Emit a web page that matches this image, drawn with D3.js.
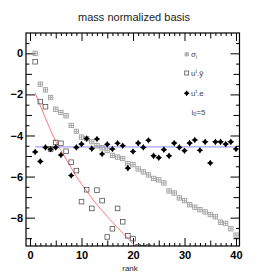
<!DOCTYPE html>
<html>
<head>
<meta charset="utf-8">
<script src="https://cdn.jsdelivr.net/npm/d3@7"></script>
<style>
body { margin: 0; background: #fff; }
svg { font-family: "Liberation Sans", Arial, sans-serif; }
</style>
</head>
<body>
<script>
var svgWidth = 266, svgHeight = 275;
var frame = { left: 26, right: 239.5, top: 33, bottom: 246 };

var ranks = [1, 2, 3, 4, 5, 6, 7, 8, 9, 10, 11, 12, 13, 14, 15, 16, 17, 18, 19, 20,
             21, 22, 23, 24, 25, 26, 27, 28, 29, 30, 31, 32, 33, 34, 35, 36, 37, 38, 39, 40];
// sigma_i (log scale values as read)
var sigma = [0.0, -1.50, -1.78, -2.15, -2.72, -2.88, -3.04, -3.51, -3.80, -4.08,
             -4.15, -4.30, -4.50, -4.60, -4.72, -4.97, -5.05, -5.12, -5.37, -5.42,
             -5.63, -5.77, -5.92, -6.09, -6.16, -6.31, -6.70, -6.80, -7.04, -7.17,
             -7.37, -7.49, -7.61, -7.72, -7.85, -7.96, -8.22, -8.28, -8.54, -8.85];
// u^t.ybar, only the visible ranks
var uty = [-0.41, -2.35, -2.60, -4.66, -4.34, -4.38, -4.77, -5.30, -5.71, -7.22,
           -6.64, -7.55, -6.66, -7.17, -8.94, -8.54, -7.55, -8.20, -8.88, -9.02,
           -9.42, -9.46, -9.43];
// u^t.e (rank 7 not visible)
var ute = [-4.80, -5.26, -4.58, -4.67, -4.58, -4.95, null, -5.95, -4.58, -4.42,
           -4.15, -4.64, -4.17, -4.90, -4.43, -4.66, -4.38, -4.50, -5.59, -4.78,
           -4.37, -4.58, -4.23, -4.99, -5.08, -4.69, -4.99, -4.37, -4.58, -4.74,
           -4.37, -4.22, -4.72, -4.31, -5.34, -4.31, -4.31, -4.42, -4.31, -4.66];
// red curve, read at ranks 1..21
var curveVals = [-1.93, -2.55, -3.15, -3.75, -4.28, -4.73, -5.15, -5.57, -6.00, -6.36,
                 -6.71, -7.05, -7.37, -7.66, -7.95, -8.22, -8.49, -8.75, -9.01, -9.27, -9.52];
var noiseLevel = -4.55;
var xTicks = [0, 10, 20, 30, 40];
var yTicks = [-8, -6, -4, -2, 0];

var svg = d3.select("body").append("svg").attr("width", svgWidth).attr("height", svgHeight);

var x = d3.scaleLinear().domain([-0.78, 40.68]).range([frame.left, frame.right]);
var y = d3.scaleLinear().domain([-9.38, 0.99]).range([frame.bottom, frame.top]);

svg.append("text").attr("x", 134).attr("y", 21).attr("text-anchor", "middle")
    .attr("font-size", 11).attr("fill", "#222").text("mass normalized basis");

svg.append("defs").append("clipPath").attr("id", "clip")
  .append("rect").attr("x", frame.left).attr("y", frame.top)
  .attr("width", frame.right - frame.left).attr("height", frame.bottom - frame.top);

// axes: ticks pointing inside
function tickAxis(axisFn, scale, vals, size, labels, pad) {
    var a = axisFn(scale).tickValues(vals).tickSize(-size).tickPadding(pad || 3);
    if (!labels) a.tickFormat("");
    return a;
}
var minorX = d3.range(0, 41).filter(d => d % 5 != 0);
var midX = [5, 15, 25, 35];
var minorY = d3.range(-18, 2).map(d => d / 2).filter(d => d % 1 != 0);
var midY = [-9, -7, -5, -3, -1];

var axes = svg.append("g").attr("class", "axes");
[[d3.axisBottom, frame.bottom], [d3.axisTop, frame.top]].forEach(function (p, i) {
    var g = axes.append("g").attr("transform", `translate(0,${p[1]})`);
    g.append("g").call(tickAxis(p[0], x, xTicks, 8, i == 0, 5));
    g.append("g").call(tickAxis(p[0], x, midX, 5.5, false));
    g.append("g").call(tickAxis(p[0], x, minorX, 3, false));
});
[[d3.axisLeft, frame.left], [d3.axisRight, frame.right]].forEach(function (p, i) {
    var g = axes.append("g").attr("transform", `translate(${p[1]},0)`);
    g.append("g").call(tickAxis(p[0], y, yTicks, 9, i == 0, 3));
    g.append("g").call(tickAxis(p[0], y, midY, 6, false));
    g.append("g").call(tickAxis(p[0], y, minorY, 3.5, false));
});
axes.selectAll(".domain").remove();
axes.selectAll(".tick line").attr("stroke", "#000").attr("stroke-width", 1);
axes.selectAll(".tick text").attr("font-size", 11).attr("font-weight", "bold").attr("fill", "#000");

var plot = svg.append("g").attr("clip-path", "url(#clip)");

// red curve
var curveData = curveVals.map((v, i) => [ranks[i], v]);
plot.append("path").datum(curveData)
    .attr("d", d3.line().x(d => x(d[0])).y(d => y(d[1])).curve(d3.curveMonotoneX))
    .attr("fill", "none").attr("stroke", "#ff7878").attr("stroke-width", 1);

// noise level line
plot.append("line")
    .attr("x1", x(ranks[0])).attr("x2", x(ranks[ranks.length - 1]))
    .attr("y1", y(noiseLevel)).attr("y2", y(noiseLevel))
    .attr("stroke", "#a3a3ff").attr("stroke-width", 1.3);

function drawSigma(g, cx, cy, s) {
    g.append("rect").attr("x", cx - s).attr("y", cy - s).attr("width", 2 * s).attr("height", 2 * s)
        .attr("fill", "none").attr("stroke", "#999").attr("stroke-width", 0.8);
    g.append("path").attr("d", `M${cx - s},${cy}H${cx + s}M${cx},${cy - s}V${cy + s}`)
        .attr("stroke", "#999").attr("stroke-width", 0.8);
}
function drawSquare(g, cx, cy, s) {
    g.append("rect").attr("x", cx - s).attr("y", cy - s).attr("width", 2 * s).attr("height", 2 * s)
        .attr("fill", "none").attr("stroke", "#555").attr("stroke-width", 0.8);
}
function drawDiamond(g, cx, cy, s) {
    g.append("path")
        .attr("d", `M${cx},${cy - s}L${cx + s * 0.4},${cy - s * 0.4}L${cx + s},${cy}L${cx + s * 0.4},${cy + s * 0.4}L${cx},${cy + s}L${cx - s * 0.4},${cy + s * 0.4}L${cx - s},${cy}L${cx - s * 0.4},${cy - s * 0.4}Z`)
        .attr("fill", "#000");
}

var gs = plot.append("g");
sigma.forEach((v, i) => drawSigma(gs, x(ranks[i]), y(v), 2.2));
var gu = plot.append("g");
uty.forEach((v, i) => drawSquare(gu, x(ranks[i]), y(v), 2.3));
var ge = plot.append("g");
ute.forEach((v, i) => { if (v != null) drawDiamond(ge, x(ranks[i]), y(v), 3.3); });

// frame
svg.append("rect").attr("x", frame.left).attr("y", frame.top)
    .attr("width", frame.right - frame.left).attr("height", frame.bottom - frame.top)
    .attr("fill", "none").attr("stroke", "#000").attr("stroke-width", 1.2);

// legend
var leg = svg.append("g").attr("font-size", 8).attr("fill", "#444");
var legY = [54.3, 73, 93.3];
drawSigma(leg, 186.7, legY[0], 1.6);
drawSquare(leg, 186.7, legY[1], 2.0);
drawDiamond(leg, 186.7, legY[2], 3.0);

var t1 = leg.append("text").attr("x", 191).attr("y", legY[0] + 3);
t1.append("tspan").text("σ");
t1.append("tspan").attr("font-size", 5.5).attr("dy", 1.5).text("i");

var t2 = leg.append("text").attr("x", 191).attr("y", legY[1] + 3);
t2.append("tspan").text("u");
t2.append("tspan").attr("font-size", 5.5).attr("dy", -3).text("t");
t2.append("tspan").attr("dy", 3).text(".ȳ");

var t3 = leg.append("text").attr("x", 191).attr("y", legY[2] + 3);
t3.append("tspan").text("u");
t3.append("tspan").attr("font-size", 5.5).attr("dy", -3).text("t");
t3.append("tspan").attr("dy", 3).text(".e");

var t4 = leg.append("text").attr("x", 191.5).attr("y", 114.5);
t4.append("tspan").text("i");
t4.append("tspan").attr("font-size", 5.5).attr("dy", 1.5).text("0");
t4.append("tspan").attr("dy", -1.5).text("=5");

svg.append("text").attr("x", 130).attr("y", 271).attr("text-anchor", "middle")
    .attr("font-size", 8).attr("fill", "#222").text("rank");
</script>
</body>
</html>
